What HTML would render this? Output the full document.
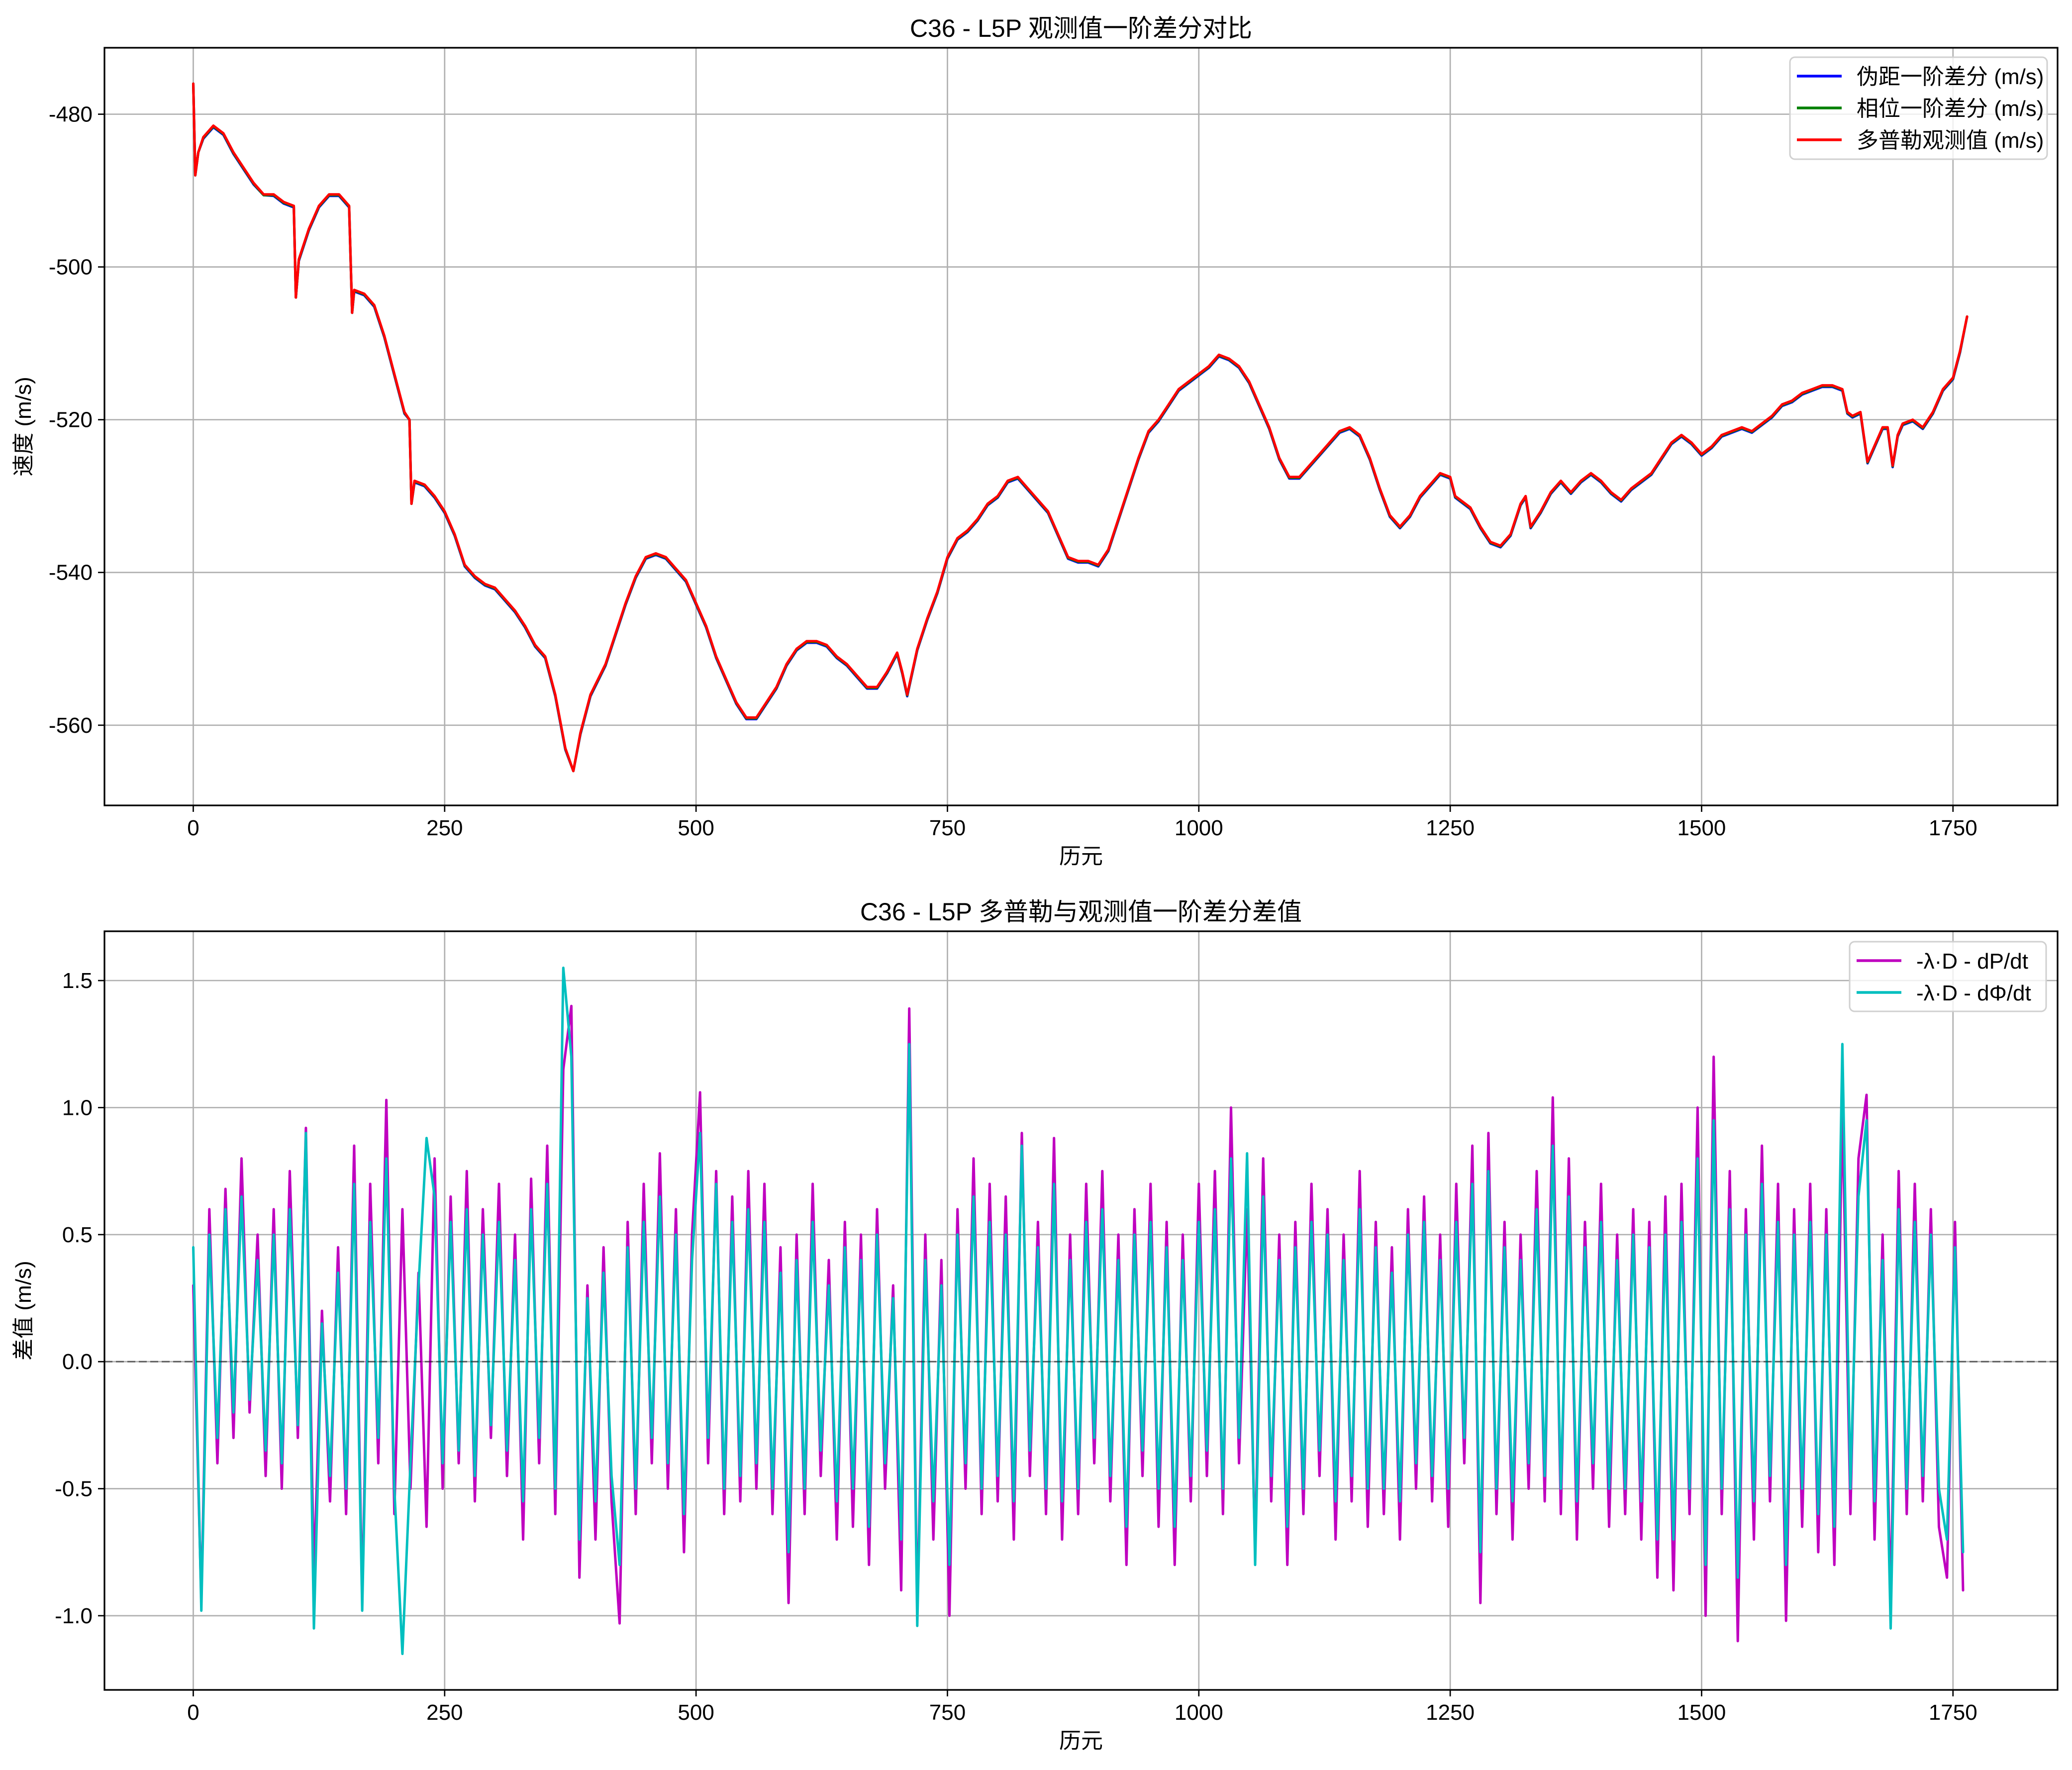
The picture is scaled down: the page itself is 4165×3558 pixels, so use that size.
<!DOCTYPE html>
<html><head><meta charset="utf-8"><style>
html,body{margin:0;padding:0;background:#fff;}
svg{display:block;font-family:"Liberation Sans","Noto Sans CJK SC",sans-serif;}
</style></head><body>
<svg id="fig" width="4165" height="3558" viewBox="0 0 4165 3558" xmlns="http://www.w3.org/2000/svg">
<rect width="4165" height="3558" fill="#fff"/>
<g id="top"></g>
<g id="bot"></g>
</svg>
<script>
const topEpochs=[0,2,5,10,20,30,40,50,60,70,80,90,100,102,105,115,125,135,145,155,158,160,170,180,190,200,210,215,217,220,230,240,250,260,270,280,290,300,310,320,330,340,350,360,370,378,385,395,410,420,430,440,450,460,470,480,490,500,510,520,530,540,550,560,570,580,590,600,610,620,630,640,650,660,670,680,690,700,705,710,720,730,740,750,760,770,780,790,800,810,820,830,840,850,860,870,880,890,900,910,920,930,940,950,960,970,980,990,1000,1010,1020,1030,1040,1050,1060,1070,1080,1090,1100,1110,1120,1130,1140,1150,1160,1170,1180,1190,1200,1210,1220,1230,1240,1250,1255,1270,1280,1290,1300,1310,1320,1325,1330,1340,1350,1360,1370,1380,1390,1400,1410,1420,1430,1440,1450,1460,1470,1480,1490,1500,1510,1520,1530,1540,1550,1560,1570,1580,1590,1600,1610,1620,1630,1640,1645,1650,1658,1665,1670,1680,1685,1690,1695,1700,1710,1720,1730,1740,1750,1757,1764];
const dopplerVals=[-476,-488,-485,-483,-481.5,-482.5,-485,-487,-489,-490.5,-490.5,-491.5,-492,-504,-499,-495,-492,-490.5,-490.5,-492,-506,-503,-503.5,-505,-509,-514,-519,-520,-531,-528,-528.5,-530,-532,-535,-539,-540.5,-541.5,-542,-543.5,-545,-547,-549.5,-551,-556,-563,-566,-561,-556,-552,-548,-544,-540.5,-538,-537.5,-538,-539.5,-541,-544,-547,-551,-554,-557,-559,-559,-557,-555,-552,-550,-549,-549,-549.5,-551,-552,-553.5,-555,-555,-553,-550.5,-553,-556,-550,-546,-542.5,-538,-535.5,-534.5,-533,-531,-530,-528,-527.5,-529,-530.5,-532,-535,-538,-538.5,-538.5,-539,-537,-533,-529,-525,-521.5,-520,-518,-516,-515,-514,-513,-511.5,-512,-513,-515,-518,-521,-525,-527.5,-527.5,-526,-524.5,-523,-521.5,-521,-522,-525,-529,-532.5,-534,-532.5,-530,-528.5,-527,-527.5,-530,-531.5,-534,-536,-536.5,-535,-531,-530,-534,-532,-529.5,-528,-529.5,-528,-527,-528,-529.5,-530.5,-529,-528,-527,-525,-523,-522,-523,-524.5,-523.5,-522,-521.5,-521,-521.5,-520.5,-519.5,-518,-517.5,-516.5,-516,-515.5,-515.5,-516,-519,-519.5,-519,-525.5,-524,-521,-521,-526,-522,-520.5,-520,-521,-519,-516,-514.5,-511,-506.5];
const pseudoVals=[-476,-488,-485,-483.2,-481.7,-482.7,-485.2,-487.2,-489.2,-490.6,-490.7,-491.7,-492.2,-504,-499.2,-495.2,-492.2,-490.7,-490.7,-492.2,-506,-503.2,-503.7,-505.2,-509.2,-514.2,-519.2,-520,-531,-528.2,-528.7,-530.2,-532.2,-535.2,-539.2,-540.7,-541.7,-542.2,-543.7,-545.2,-547.2,-549.7,-551.2,-556.2,-563.2,-566,-561.2,-556.2,-552.2,-548.2,-544.2,-540.7,-538.2,-537.7,-538.2,-539.7,-541.2,-544.2,-547.2,-551.2,-554.2,-557.2,-559.2,-559.2,-557.2,-555.2,-552.2,-550.2,-549.2,-549.2,-549.7,-551.2,-552.2,-553.7,-555.2,-555.2,-553.2,-550.7,-553.2,-556.2,-550.2,-546.2,-542.7,-538.2,-535.7,-534.7,-533.2,-531.2,-530.2,-528.2,-527.7,-529.2,-530.7,-532.2,-535.2,-538.2,-538.7,-538.7,-539.2,-537.2,-533.2,-529.2,-525.2,-521.7,-520.2,-518.2,-516.2,-515.2,-514.2,-513.2,-511.7,-512.2,-513.2,-515.2,-518.2,-521.2,-525.2,-527.7,-527.7,-526.2,-524.7,-523.2,-521.7,-521.2,-522.2,-525.2,-529.2,-532.7,-534.2,-532.7,-530.2,-528.7,-527.2,-527.7,-530.2,-531.7,-534.2,-536.2,-536.7,-535.2,-531.2,-530.2,-534.2,-532.2,-529.7,-528.2,-529.7,-528.2,-527.2,-528.2,-529.7,-530.7,-529.2,-528.2,-527.2,-525.2,-523.2,-522.2,-523.2,-524.7,-523.7,-522.2,-521.7,-521.2,-521.7,-520.7,-519.7,-518.2,-517.7,-516.7,-516.2,-515.7,-515.7,-516.2,-519.2,-519.7,-519.2,-525.7,-524.2,-521.2,-521.2,-526.2,-522.2,-520.7,-520.2,-521.2,-519.2,-516.2,-514.7,-511.2,-506.5];
const phaseVals=[-476,-488,-485,-483.1,-481.6,-482.6,-485.1,-487.1,-489.1,-490.6,-490.6,-491.6,-492.1,-504,-499.1,-495.1,-492.1,-490.6,-490.6,-492.1,-506,-503.1,-503.6,-505.1,-509.1,-514.1,-519.1,-520,-531,-528.1,-528.6,-530.1,-532.1,-535.1,-539.1,-540.6,-541.6,-542.1,-543.6,-545.1,-547.1,-549.6,-551.1,-556.1,-563.1,-566,-561.1,-556.1,-552.1,-548.1,-544.1,-540.6,-538.1,-537.6,-538.1,-539.6,-541.1,-544.1,-547.1,-551.1,-554.1,-557.1,-559.1,-559.1,-557.1,-555.1,-552.1,-550.1,-549.1,-549.1,-549.6,-551.1,-552.1,-553.6,-555.1,-555.1,-553.1,-550.6,-553.1,-556.1,-550.1,-546.1,-542.6,-538.1,-535.6,-534.6,-533.1,-531.1,-530.1,-528.1,-527.6,-529.1,-530.6,-532.1,-535.1,-538.1,-538.6,-538.6,-539.1,-537.1,-533.1,-529.1,-525.1,-521.6,-520.1,-518.1,-516.1,-515.1,-514.1,-513.1,-511.6,-512.1,-513.1,-515.1,-518.1,-521.1,-525.1,-527.6,-527.6,-526.1,-524.6,-523.1,-521.6,-521.1,-522.1,-525.1,-529.1,-532.6,-534.1,-532.6,-530.1,-528.6,-527.1,-527.6,-530.1,-531.6,-534.1,-536.1,-536.6,-535.1,-531.1,-530.1,-534.1,-532.1,-529.6,-528.1,-529.6,-528.1,-527.1,-528.1,-529.6,-530.6,-529.1,-528.1,-527.1,-525.1,-523.1,-522.1,-523.1,-524.6,-523.6,-522.1,-521.6,-521.1,-521.6,-520.6,-519.6,-518.1,-517.6,-516.6,-516.1,-515.6,-515.6,-516.1,-519.1,-519.6,-519.1,-525.6,-524.1,-521.1,-521.1,-526.1,-522.1,-520.6,-520.1,-521.1,-519.1,-516.1,-514.6,-511.1,-506.5];
const botStep=8;
const magentaVals=[0.3,-0.95,0.6,-0.4,0.68,-0.3,0.8,-0.2,0.5,-0.45,
0.6,-0.5,0.75,-0.3,0.92,-0.85,0.2,-0.55,0.45,-0.6,
0.85,-0.95,0.7,-0.4,1.03,-0.6,0.6,-0.5,0.35,-0.65,
0.8,-0.5,0.65,-0.4,0.75,-0.55,0.6,-0.3,0.7,-0.45,
0.5,-0.7,0.72,-0.4,0.85,-0.6,1.15,1.4,-0.85,0.3,
-0.7,0.45,-0.55,-1.03,0.55,-0.6,0.7,-0.4,0.82,-0.5,
0.6,-0.75,0.5,1.06,-0.4,0.75,-0.6,0.65,-0.55,0.75,
-0.5,0.7,-0.6,0.45,-0.95,0.5,-0.6,0.7,-0.45,0.4,
-0.7,0.55,-0.65,0.5,-0.8,0.6,-0.5,0.3,-0.9,1.39,
-1.0,0.5,-0.7,0.4,-1.0,0.6,-0.5,0.8,-0.6,0.7,
-0.55,0.65,-0.7,0.9,-0.45,0.55,-0.6,0.88,-0.7,0.5,
-0.6,0.7,-0.4,0.75,-0.55,0.5,-0.8,0.6,-0.45,0.7,
-0.65,0.55,-0.8,0.5,-0.55,0.7,-0.45,0.75,-0.6,1.0,
-0.4,0.6,-0.75,0.8,-0.55,0.5,-0.8,0.55,-0.6,0.7,
-0.45,0.6,-0.7,0.5,-0.55,0.75,-0.65,0.55,-0.6,0.45,
-0.7,0.6,-0.5,0.65,-0.55,0.5,-0.65,0.7,-0.4,0.85,
-0.95,0.9,-0.6,0.55,-0.7,0.5,-0.5,0.75,-0.55,1.04,
-0.6,0.8,-0.7,0.55,-0.5,0.7,-0.65,0.5,-0.6,0.6,
-0.7,0.55,-0.85,0.65,-0.9,0.7,-0.6,1.0,-1.0,1.2,
-0.6,0.75,-1.1,0.6,-0.7,0.85,-0.55,0.7,-1.02,0.6,
-0.65,0.7,-0.75,0.6,-0.8,1.0,-0.6,0.8,1.05,-0.7,
0.5,-0.95,0.75,-0.6,0.7,-0.55,0.6,-0.65,-0.85,0.55,
-0.9];
const cyanVals=[0.45,-0.98,0.5,-0.3,0.6,-0.2,0.65,-0.15,0.4,-0.35,
0.5,-0.4,0.6,-0.25,0.9,-1.05,0.15,-0.45,0.35,-0.5,
0.7,-0.98,0.55,-0.3,0.8,-0.5,-1.15,-0.4,0.3,0.88,
0.65,-0.4,0.55,-0.35,0.6,-0.45,0.5,-0.25,0.55,-0.35,
0.4,-0.55,0.6,-0.3,0.7,-0.5,1.55,1.2,-0.7,0.25,
-0.55,0.35,-0.45,-0.8,0.45,-0.5,0.55,-0.3,0.65,-0.4,
0.5,-0.6,0.4,0.9,-0.3,0.7,-0.5,0.55,-0.45,0.6,
-0.4,0.55,-0.5,0.35,-0.75,0.4,-0.5,0.55,-0.35,0.3,
-0.55,0.45,-0.5,0.4,-0.65,0.5,-0.4,0.25,-0.7,1.25,
-1.04,0.4,-0.55,0.3,-0.8,0.5,-0.4,0.65,-0.5,0.55,
-0.45,0.5,-0.55,0.85,-0.35,0.45,-0.5,0.7,-0.55,0.4,
-0.5,0.55,-0.3,0.6,-0.45,0.4,-0.65,0.5,-0.35,0.55,
-0.5,0.45,-0.65,0.4,-0.45,0.55,-0.35,0.6,-0.5,0.8,
-0.3,0.82,-0.8,0.65,-0.45,0.4,-0.65,0.45,-0.5,0.55,
-0.35,0.5,-0.55,0.4,-0.45,0.6,-0.5,0.45,-0.5,0.35,
-0.55,0.5,-0.4,0.55,-0.45,0.4,-0.5,0.55,-0.3,0.7,
-0.75,0.75,-0.5,0.45,-0.55,0.4,-0.4,0.6,-0.45,0.85,
-0.5,0.65,-0.55,0.45,-0.4,0.55,-0.5,0.4,-0.5,0.5,
-0.55,0.45,-0.7,0.5,-0.7,0.55,-0.5,0.8,-0.8,0.95,
-0.5,0.6,-0.85,0.5,-0.55,0.7,-0.45,0.55,-0.8,0.5,
-0.5,0.55,-0.6,0.5,-0.65,1.25,-0.5,0.65,0.95,-0.55,
0.4,-1.05,0.6,-0.5,0.55,-0.45,0.5,-0.5,-0.7,0.45,
-0.75];
const xTicks=[0,250,500,750,1000,1250,1500,1750];
const topYTicks=[-480,-500,-520,-540,-560];
const botYTicks=[1.5,1.0,0.5,0.0,-0.5,-1.0];
const botYLabels=["1.5","1.0","0.5","0.0","-0.5","-1.0"];

const NS="http://www.w3.org/2000/svg";
const L=210,R=4136;
const X0=-88.3,X1=1854;
function xs(v){return L+(v-X0)/(X1-X0)*(R-L);}
function mk(tag,attrs,parent){const e=document.createElementNS(NS,tag);for(const k in attrs)e.setAttribute(k,attrs[k]);parent.appendChild(e);return e;}

function drawAxes(g,T,B,ys,yt,ylab,title,ytitle){
  for(const t of xTicks){
    const l=mk('line',{x1:xs(t),x2:xs(t),y1:T,y2:B,stroke:'#b0b0b0','stroke-width':2.7},g);
    
    
    const tk=mk('line',{x1:xs(t),x2:xs(t),y1:B,y2:B+13,stroke:'#000','stroke-width':2.7},g);
    
    
    const tx=mk('text',{x:xs(t),y:B+60,'font-size':44,'text-anchor':'middle',fill:'#000'},g);
    tx.textContent=t;
    
    
  }
  yt.forEach((t,i)=>{
    const y=ys(t);
    const l=mk('line',{x1:L,x2:R,y1:y,y2:y,stroke:'#b0b0b0','stroke-width':2.7},g);
    
    
    const tk=mk('line',{x1:L-13,x2:L,y1:y,y2:y,stroke:'#000','stroke-width':2.7},g);
    
    
    const tx=mk('text',{x:L-24,y:y+15,'font-size':44,'text-anchor':'end',fill:'#000'},g);
    tx.textContent=ylab?ylab[i]:t;
    
    
  });
  const tt=mk('text',{x:(L+R)/2,y:T-22,'font-size':50,'text-anchor':'middle',fill:'#000'},g);
  tt.textContent=title;
  
  
  const xl=mk('text',{x:(L+R)/2,y:B+117,'font-size':44,'text-anchor':'middle',fill:'#000'},g);
  xl.textContent='历元';
  
  
  const cy=(T+B)/2;
  const yl=mk('text',{x:62,y:cy,'font-size':44,'text-anchor':'middle',fill:'#000',transform:'rotate(-90 62 '+cy+')'},g);
  yl.textContent=ytitle;
  
  
}
function frame(g,T,B){
  const f=mk('rect',{x:L,y:T,width:R-L,height:B-T,fill:'none',stroke:'#000','stroke-width':3.3},g);
  
  
}
function line(g,xsArr,vals,ys,color,name){
  let d='';
  vals.forEach((v,i)=>{d+=(i?'L':'M')+xs(xsArr[i]).toFixed(1)+' '+ys(v).toFixed(1);});
  const p=mk('path',{d:d,fill:'none',stroke:color,'stroke-width':5,'stroke-linejoin':'round','stroke-linecap':'round'},g);
  
  
}
function legend(g,x,y,w,h,items,rowH){
  const b=mk('rect',{x:x,y:y,width:w,height:h,rx:10,fill:'#fff','fill-opacity':0.8,stroke:'#d0d0d0','stroke-width':3},g);
  
  
  items.forEach((it,i)=>{
    const cy=y+38+i*rowH;
    const l=mk('line',{x1:x+14,x2:x+104,y1:cy,y2:cy,stroke:it[1],'stroke-width':5.5},g);
    
    
    const t=mk('text',{x:x+134,y:cy+16,'font-size':44,fill:'#000'},g);
    t.textContent=it[0];
    
    
  });
}
// top
(function(){
  const g=document.getElementById('top');const T=96,B=1619;
  const Y0=-570.5,Y1=-471.3;
  const ys=v=>B-(v-Y0)/(Y1-Y0)*(B-T);
  drawAxes(g,T,B,ys,topYTicks,null,'C36 - L5P 观测值一阶差分对比','速度 (m/s)');
  line(g,topEpochs,pseudoVals,ys,'#0000ff','pseudorange-diff-line');
  line(g,topEpochs,phaseVals,ys,'#008000','phase-diff-line');
  line(g,topEpochs,dopplerVals,ys,'#ff0000','doppler-line');
  frame(g,T,B);
  legend(g,3598,115,517,205,[['伪距一阶差分 (m/s)','#0000ff'],['相位一阶差分 (m/s)','#008000'],['多普勒观测值 (m/s)','#ff0000']],64);
})();
// bottom
(function(){
  const g=document.getElementById('bot');const T=1872,B=3397;
  const Y0=-1.292,Y1=1.694;
  const ys=v=>B-(v-Y0)/(Y1-Y0)*(B-T);
  drawAxes(g,T,B,ys,botYTicks,botYLabels,'C36 - L5P 多普勒与观测值一阶差分差值','差值 (m/s)');
  const ep=magentaVals.map((v,i)=>i*botStep);
  line(g,ep,magentaVals,ys,'#bf00bf','doppler-minus-dP-line');
  line(g,ep,cyanVals,ys,'#00bfbf','doppler-minus-dPhi-line');
  const z=mk('line',{x1:L,x2:R,y1:ys(0),y2:ys(0),stroke:'#000','stroke-opacity':0.5,'stroke-width':3,'stroke-dasharray':'16 7'},g);
  
  
  frame(g,T,B);
  legend(g,3718,1893,395,140,[['-λ·D - dP/dt','#bf00bf'],['-λ·D - dΦ/dt','#00bfbf']],64);
})();
</script>
</body></html>
